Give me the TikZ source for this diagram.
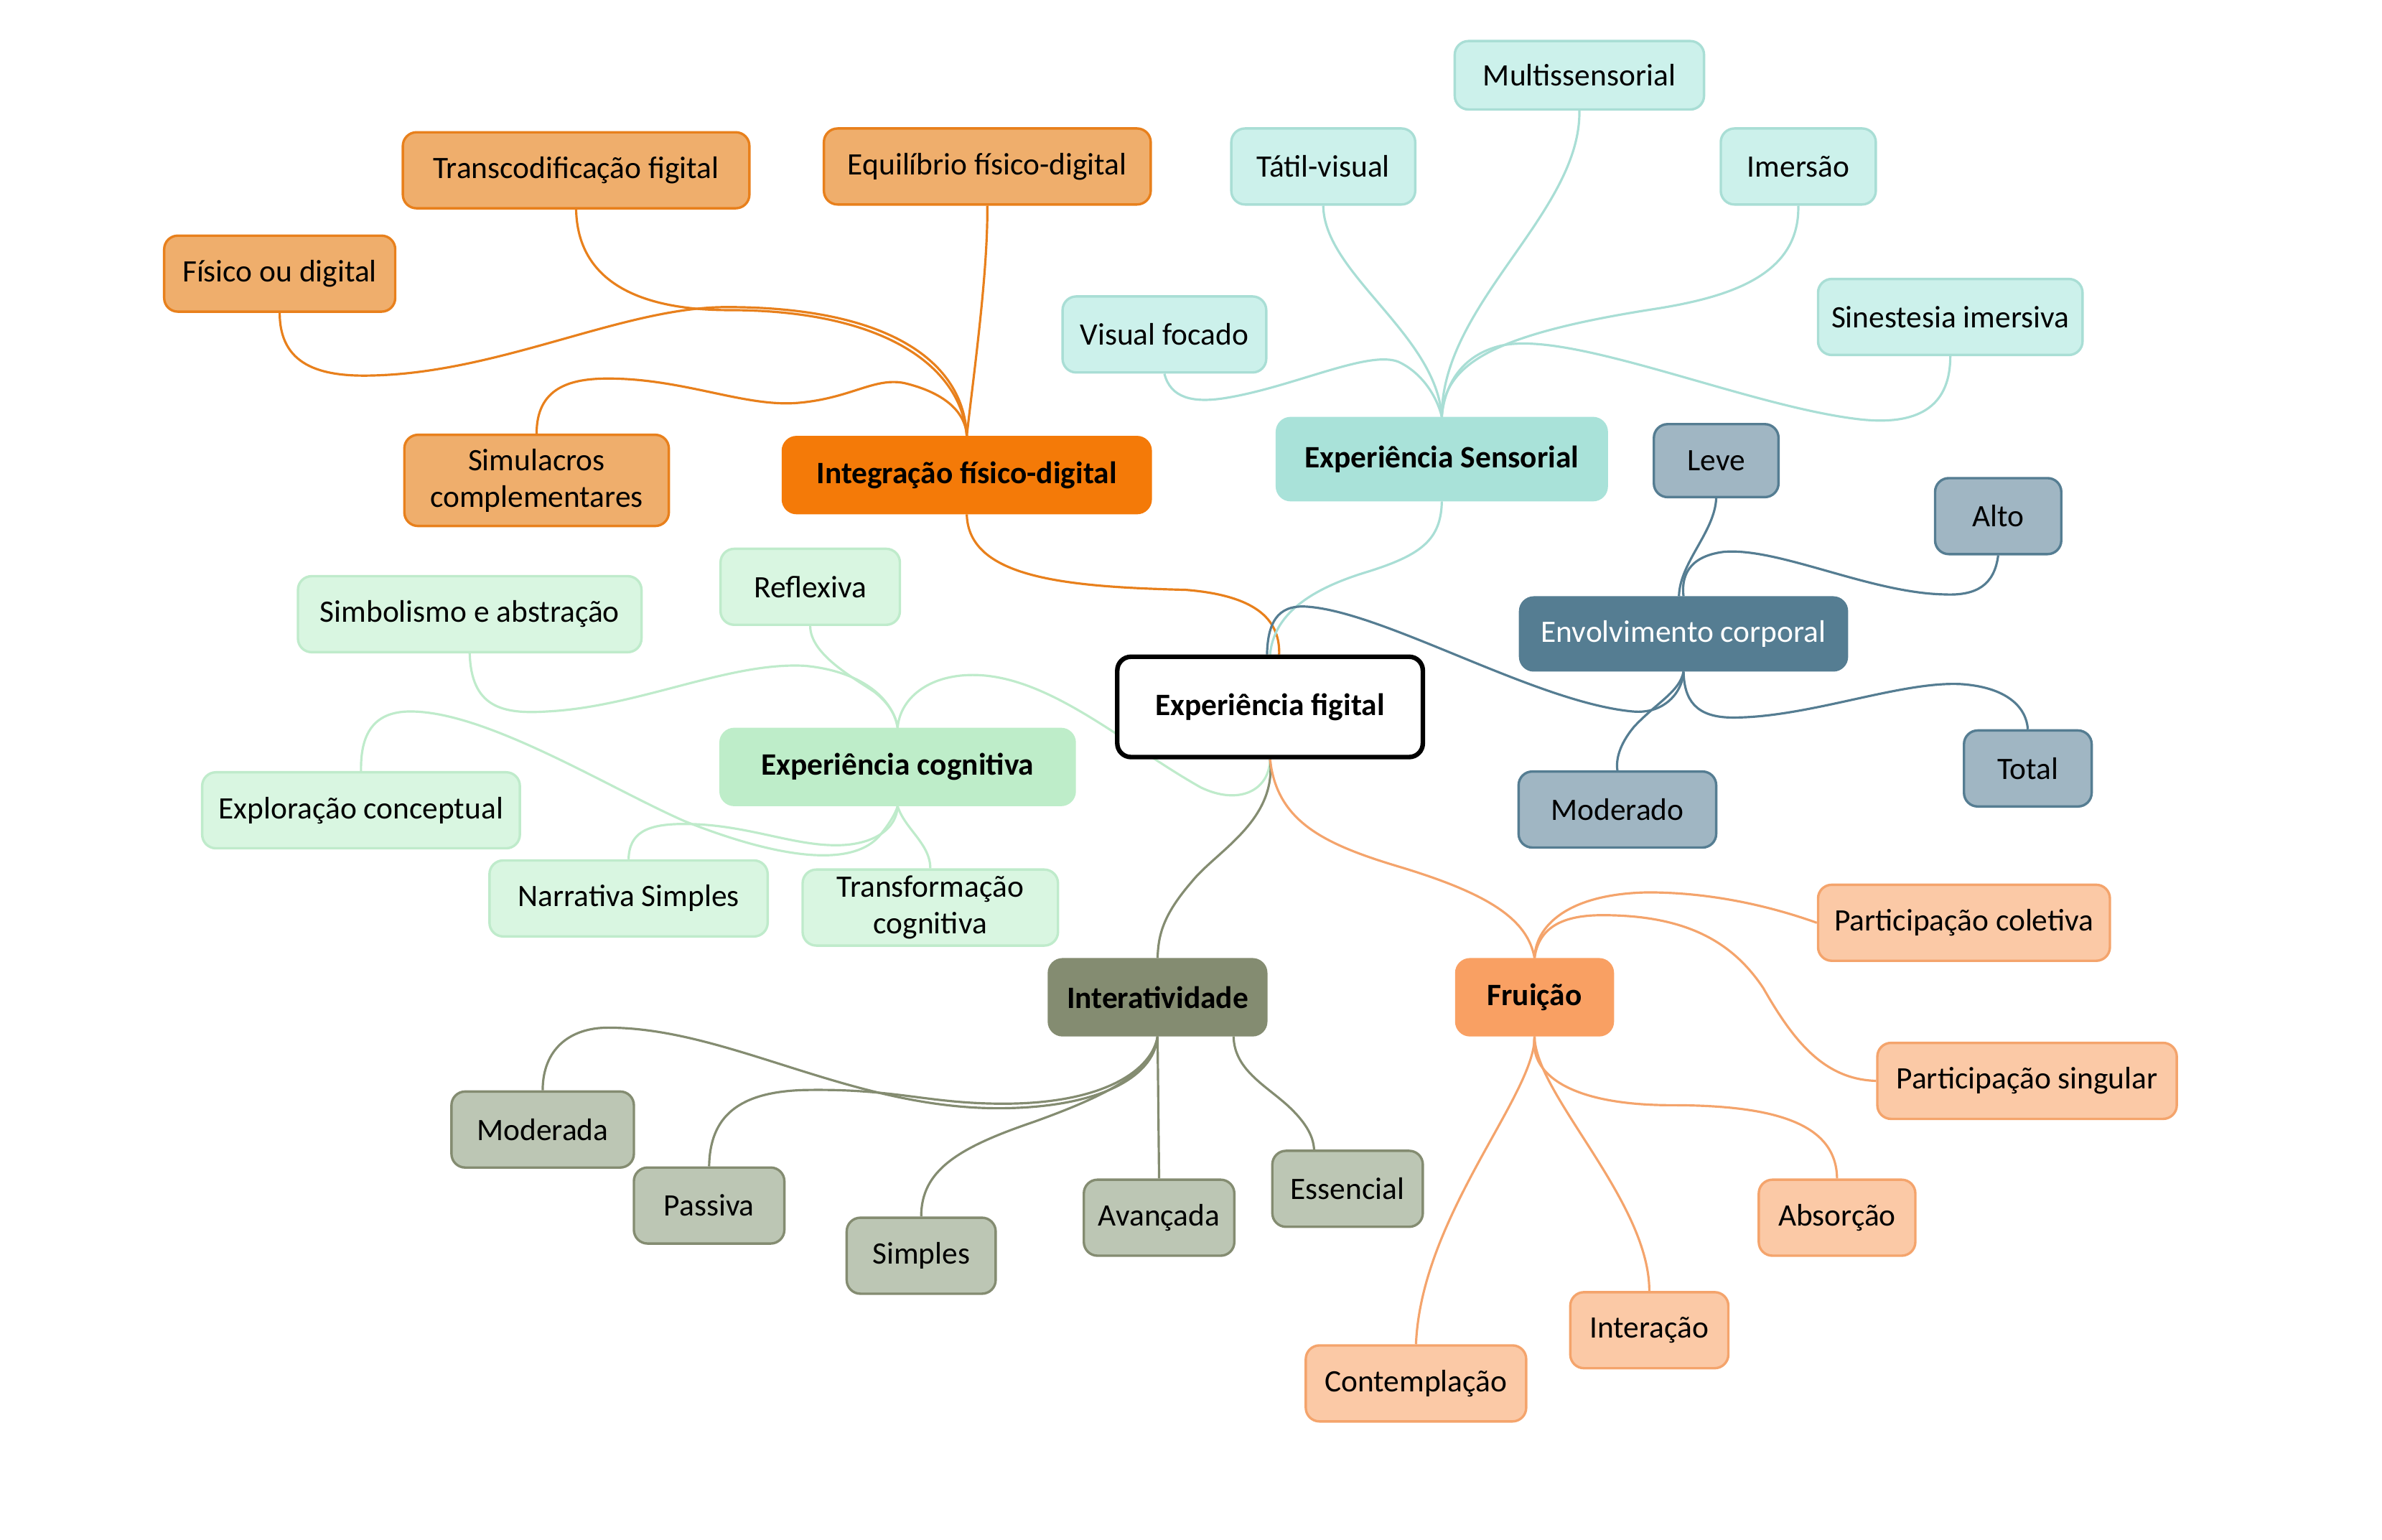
\documentclass[tikz,border=0pt]{standalone}
\usepackage{fontspec}
\setmainfont{Carlito}
\usetikzlibrary{backgrounds}

\definecolor{orgdark}{HTML}{F47A08}
\definecolor{orgline}{HTML}{E8801C}
\definecolor{orgfill}{HTML}{EFAE6C}
\definecolor{tealdark}{HTML}{A9E2D9}
\definecolor{tealfill}{HTML}{CCF1EB}
\definecolor{tealline}{HTML}{A9DED5}
\definecolor{slatedark}{HTML}{557D92}
\definecolor{slatefill}{HTML}{A0B6C3}
\definecolor{greendark}{HTML}{BEEDC9}
\definecolor{greenfill}{HTML}{D9F6E1}
\definecolor{greenline}{HTML}{BFEBCB}
\definecolor{olivedark}{HTML}{848C71}
\definecolor{olivefill}{HTML}{BCC6B4}
\definecolor{peachdark}{HTML}{F9A063}
\definecolor{peachfill}{HTML}{FBC9A6}
\definecolor{peachline}{HTML}{F4A46C}

\tikzset{
  box/.style={rounded corners=9pt, line width=1.6pt, minimum height=50pt,
    inner xsep=8pt, align=center, font=\fontsize{20.5}{24}\selectfont},
  hub/.style={box, font=\fontsize{20.5}{24}\selectfont\bfseries},
  link/.style={line width=1.5pt},
  orgsub/.style={box, draw=orgline, fill=orgfill},
  tealsub/.style={box, draw=tealline, fill=tealfill},
  slatesub/.style={box, draw=slatedark, fill=slatefill},
  greensub/.style={box, draw=greenline, fill=greenfill},
  olivesub/.style={box, draw=olivedark, fill=olivefill},
  peachsub/.style={box, draw=peachline, fill=peachfill},
}

\begin{document}
\begin{tikzpicture}[x=1pt, y=-1pt]
\useasboundingbox (0,0) rectangle (1567,1013);

% centre
\node[hub, draw=black, fill=white, line width=3pt, minimum width=201pt, minimum height=66pt] (root) at (835.5,465) {Experiência figital};

% main branches
\node[hub, draw=orgdark, fill=orgdark, minimum width=242pt] (integ) at (636,312.5) {Integração físico-digital};
\node[hub, draw=tealdark, fill=tealdark, minimum width=217pt, minimum height=54pt] (sens) at (948.5,302) {Experiência Sensorial};
\node[box, draw=slatedark, fill=slatedark, text=white, minimum width=215pt, minimum height=48pt] (envol) at (1107.5,417) {Envolvimento corporal};
\node[hub, draw=greendark, fill=greendark, minimum width=233pt] (cogn) at (590.5,504.5) {Experiência cognitiva};
\node[hub, draw=olivedark, fill=olivedark, minimum width=143pt] (inter) at (761.5,656) {Interatividade};
\node[hub, draw=peachdark, fill=peachdark, minimum width=103pt] (frui) at (1009.5,656) {Fruição};

% integracao
\node[orgsub, minimum width=228pt] (transc) at (379,112) {Transcodificação figital};
\node[orgsub, minimum width=215pt] (equil) at (649.5,109.5) {Equilíbrio físico-digital};
\node[orgsub, minimum width=152pt] (fisico) at (184,180) {Físico ou digital};
\node[orgsub, minimum width=174pt, minimum height=60pt] (simul) at (353,316) {Simulacros\\complementares};

% sensorial
\node[tealsub, minimum width=164pt, minimum height=45pt] (multi) at (1039,49.5) {Multissensorial};
\node[tealsub, minimum width=121pt] (tatil) at (870.5,109.5) {Tátil-visual};
\node[tealsub, minimum width=102pt] (imers) at (1183,109.5) {Imersão};
\node[tealsub, minimum width=134pt] (visual) at (766,220) {Visual focado};
\node[tealsub, minimum width=174pt] (sines) at (1283,208.5) {Sinestesia imersiva};

% envolvimento
\node[slatesub, minimum width=82pt, minimum height=48pt] (leve) at (1129,303) {Leve};
\node[slatesub, minimum width=83pt] (alto) at (1314.5,339.5) {Alto};
\node[slatesub, minimum width=130pt] (moder) at (1064,532.5) {Moderado};
\node[slatesub, minimum width=84pt] (total) at (1334,505.5) {Total};

% cognitiva
\node[greensub, minimum width=118pt] (refl) at (533,386) {Reflexiva};
\node[greensub, minimum width=226pt] (simb) at (309,404) {Simbolismo e abstração};
\node[greensub, minimum width=209pt] (explo) at (237.5,533) {Exploração conceptual};
\node[greensub, minimum width=183pt] (narr) at (413.5,591) {Narrativa Simples};
\node[greensub, minimum width=168pt] (transf) at (612,597) {Transformação\\cognitiva};

% interatividade
\node[olivesub, minimum width=120pt] (moda) at (357,743) {Moderada};
\node[olivesub, minimum width=99pt] (pass) at (466.5,793) {Passiva};
\node[olivesub, minimum width=98pt] (simp) at (606,826) {Simples};
\node[olivesub, minimum width=99pt] (avan) at (762.5,801) {Avançada};
\node[olivesub, minimum width=99pt] (essen) at (886.5,782) {Essencial};

% fruicao
\node[peachsub, minimum width=192pt] (pcol) at (1292,607) {Participação coletiva};
\node[peachsub, minimum width=197pt] (psing) at (1333.5,711) {Participação singular};
\node[peachsub, minimum width=103pt] (absor) at (1208.5,801) {Absorção};
\node[peachsub, minimum width=104pt] (intera) at (1085,875) {Interação};
\node[peachsub, minimum width=145pt] (contem) at (931.5,910) {Contemplação};

\begin{scope}[on background layer]
% links to the centre
\draw[link, orgline] (integ.south) .. controls (637,380) and (700,386) .. (780,388) .. controls (830,392) and (842,410) .. ([xshift=6pt]root.north);
\draw[link, tealline] (sens.south) .. controls (948,355) and (935,365) .. (900,376) .. controls (860,388) and (838,405) .. (root.north);
\draw[link, slatedark] ([xshift=-2pt]root.north) .. controls (834,410) and (840,398) .. (859,399) .. controls (910,402) and (1010,462) .. (1074,468) .. controls (1095,470) and (1107,455) .. (envol.south);
\draw[link, greenline] (cogn.north) .. controls (592,460) and (610,444) .. (640,444) .. controls (690,444) and (740,490) .. (790,518) .. controls (815,530) and (835,520) .. (root.south);
\draw[link, olivedark] (root.south) .. controls (840,540) and (800,560) .. (784,580) .. controls (765,602) and (762,615) .. (inter.north);
\draw[link, peachline] (root.south) .. controls (840,540) and (870,555) .. (920,570) .. controls (980,588) and (1005,605) .. (frui.north);

% integracao
\draw[link, orgline] (transc.south) .. controls (380,185) and (420,204) .. (480,204) .. controls (580,204) and (632,240) .. (integ.north);
\draw[link, orgline] (fisico.south) .. controls (184,240) and (210,248) .. (245,247) .. controls (330,245) and (410,202) .. (478,202) .. controls (585,202) and (634,238) .. (integ.north);
\draw[link, orgline] (equil.south) .. controls (650,180) and (640,250) .. (integ.north);
\draw[link, orgline] (simul.north) .. controls (353,255) and (375,249) .. (400,249) .. controls (450,249) and (490,268) .. (525,265) .. controls (560,262) and (575,248) .. (595,252) .. controls (620,258) and (635,270) .. (integ.north);

% sensorial
\draw[link, tealline] (multi.south) .. controls (1040,140) and (948,200) .. (sens.north);
\draw[link, tealline] (tatil.south) .. controls (871,180) and (945,220) .. (sens.north);
\draw[link, tealline] (imers.south) .. controls (1184,180) and (1140,195) .. (1090,203) .. controls (980,220) and (950,240) .. (sens.north);
\draw[link, tealline] (visual.south) .. controls (770,262) and (785,265) .. (805,262) .. controls (850,255) and (900,230) .. (920,238) .. controls (935,245) and (945,260) .. (sens.north);
\draw[link, tealline] (sines.south) .. controls (1283,265) and (1265,280) .. (1225,276) .. controls (1150,268) and (1030,215) .. (985,228) .. controls (960,235) and (950,255) .. (sens.north);

% envolvimento
\draw[link, slatedark] (leve.south) .. controls (1128,350) and (1105,370) .. ([xshift=-3pt]envol.north);
\draw[link, slatedark] (alto.south) .. controls (1312,385) and (1300,392) .. (1279,391) .. controls (1230,390) and (1170,360) .. (1134,363) .. controls (1110,366) and (1106,380) .. (envol.north);
\draw[link, slatedark] (envol.south) .. controls (1105,455) and (1090,462) .. (1075,478) .. controls (1065,490) and (1063,500) .. (moder.north);
\draw[link, slatedark] (envol.south) .. controls (1108,460) and (1115,472) .. (1140,472) .. controls (1190,472) and (1250,448) .. (1290,450) .. controls (1320,452) and (1333,465) .. (total.north);

% cognitiva
\draw[link, greenline] (refl.south) .. controls (533,430) and (560,445) .. (575,455) .. controls (588,465) and (590,475) .. (cogn.north);
\draw[link, greenline] (simb.south) .. controls (310,465) and (330,470) .. (360,468) .. controls (420,465) and (480,435) .. (530,438) .. controls (570,442) and (588,462) .. (cogn.north);
\draw[link, greenline] (explo.north) .. controls (237,480) and (248,468) .. (270,468) .. controls (320,468) and (400,518) .. (450,540) .. controls (500,560) and (560,575) .. (580,548) .. controls (588,538) and (590,532) .. (cogn.south);
\draw[link, greenline] (narr.north) .. controls (414,548) and (425,542) .. (450,542) .. controls (490,542) and (520,556) .. (550,556) .. controls (575,556) and (590,545) .. (cogn.south);
\draw[link, greenline] (transf.north) .. controls (612,555) and (595,545) .. (cogn.south);

% interatividade
\draw[link, olivedark] (moda.north) .. controls (357,690) and (375,676) .. (400,676) .. controls (480,676) and (560,730) .. (660,729) .. controls (730,728) and (760,705) .. (inter.south);
\draw[link, olivedark] (pass.north) .. controls (467,735) and (485,718) .. (530,717) .. controls (590,716) and (610,726) .. (660,726) .. controls (728,726) and (758,703) .. (inter.south);
\draw[link, olivedark] (simp.north) .. controls (606,770) and (630,755) .. (680,738) .. controls (730,720) and (758,705) .. (inter.south);
\draw[link, olivedark] (avan.north) -- (inter.south);
\draw[link, olivedark] ([xshift=50pt]inter.south) .. controls (812,705) and (835,715) .. (850,730) .. controls (862,742) and (864,750) .. ([xshift=-22pt]essen.north);

% fruicao
\draw[link, peachline] (frui.north) .. controls (1010,610) and (1030,588) .. (1084,587) .. controls (1130,587) and (1170,598) .. (pcol.west);
\draw[link, peachline] (frui.north) .. controls (1012,612) and (1025,602) .. (1054,602) .. controls (1110,602) and (1140,620) .. (1160,650) .. controls (1180,685) and (1200,710) .. (psing.west);
\draw[link, peachline] (frui.south) .. controls (1006,705) and (1030,727) .. (1100,727) .. controls (1170,727) and (1208,740) .. (absor.north);
\draw[link, peachline] (frui.south) .. controls (1010,720) and (1085,790) .. (intera.north);
\draw[link, peachline] (frui.south) .. controls (1010,720) and (935,800) .. (contem.north);
\end{scope}
\end{tikzpicture}
\end{document}
